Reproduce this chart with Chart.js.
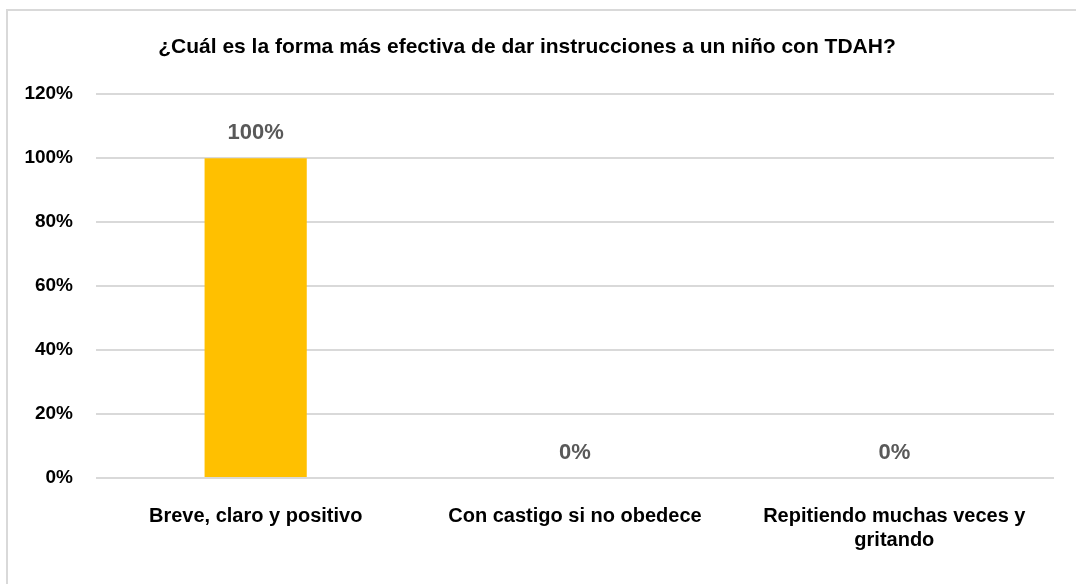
<!DOCTYPE html>
<html>
<head>
<meta charset="utf-8">
<script src="https://cdn.jsdelivr.net/npm/chart.js@4/dist/chart.umd.min.js"></script>
<style>
    html, body { margin: 0; padding: 0; background: #fff; overflow: hidden; }
    #marco {
        position: absolute; left: 6px; top: 9px; width: 1200px; height: 700px;
        border-left: 2px solid #d9d9d9; border-top: 2px solid #d9d9d9;
    }
    #contenedor { position: absolute; left: 0; top: 0; width: 1076px; height: 584px; }
</style>
</head>
<body>
<div id="marco"></div>
<div id="contenedor"><canvas id="grafico"></canvas></div>
<script>
const titulo = "¿Cuál es la forma más efectiva de dar instrucciones a un niño con TDAH?";
const categorias = [
    "Breve, claro y positivo",
    "Con castigo si no obedece",
    ["Repitiendo muchas veces y", "gritando"]
];
const porcentajes = [100, 0, 0];
const ticksY = [0, 20, 40, 60, 80, 100, 120];

const fuente = "'Liberation Sans Narrow', 'Arial Narrow', 'Liberation Sans', Arial, sans-serif";

// etiquetas de valor encima de cada barra
const etiquetasBarras = {
    id: "etiquetasBarras",
    afterDatasetsDraw(chart) {
        const ctx = chart.ctx;
        const meta = chart.getDatasetMeta(0);
        ctx.save();
        ctx.font = "bold 22px 'Liberation Sans', Arial, sans-serif";
        ctx.fillStyle = "#595959";
        ctx.textAlign = "center";
        ctx.textBaseline = "middle";
        meta.data.forEach((barra, i) => {
            ctx.fillText(porcentajes[i] + "%", barra.x, barra.y - 25);
        });
        ctx.restore();
    }
};

let ctx = document.getElementById("grafico").getContext("2d");
new Chart(ctx, {
    type: "bar",
    data: {
        labels: categorias,
        datasets: [{
            data: porcentajes,
            backgroundColor: "#FFC000",
            borderWidth: 0,
            barPercentage: 0.32,
            categoryPercentage: 1
        }]
    },
    options: {
        responsive: true,
        maintainAspectRatio: false,
        animation: false,
        layout: { padding: { left: 0, right: 22, top: 0, bottom: 14 } },
        plugins: {
            legend: { display: false },
            tooltip: { enabled: false },
            title: {
                display: true,
                text: titulo,
                color: "#000",
                font: { family: fuente, size: 21, weight: "bold", lineHeight: 1.2 },
                padding: { top: 35, bottom: 34 }
            }
        },
        scales: {
            x: {
                grid: { display: false },
                border: { display: false },
                ticks: {
                    color: "#000",
                    font: { family: fuente, size: 20, weight: "bold", lineHeight: 1.2 },
                    padding: 18,
                    maxRotation: 0,
                    autoSkip: false
                }
            },
            y: {
                min: 0,
                max: 120,
                afterBuildTicks(scale) {
                    scale.ticks = ticksY.map(v => ({ value: v }));
                },
                afterFit(scale) { scale.width = 96; },
                grid: { color: "#d9d9d9", lineWidth: 2, drawTicks: false },
                border: { display: false },
                ticks: {
                    color: "#000",
                    font: { family: fuente, size: 19, weight: "bold" },
                    padding: 23,
                    callback: v => v + "%"
                }
            }
        }
    },
    plugins: [etiquetasBarras]
});
</script>
</body>
</html>
